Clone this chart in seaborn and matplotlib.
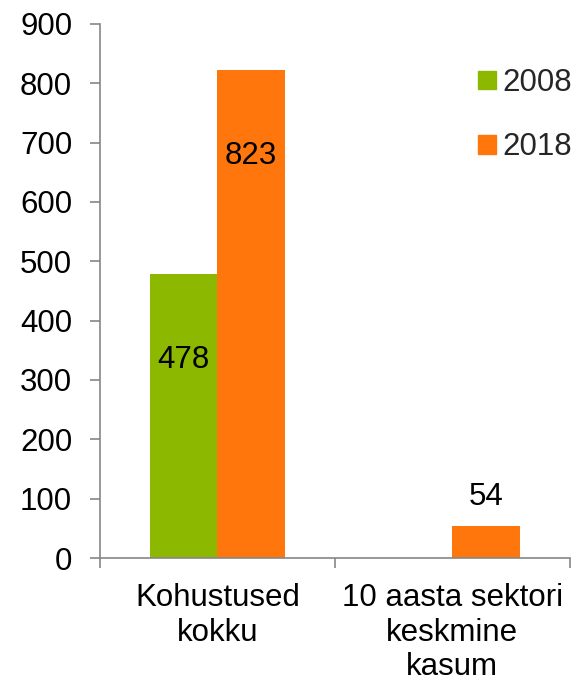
import numpy as np
import pandas as pd
import matplotlib
matplotlib.use("Agg")
import matplotlib.pyplot as plt
import seaborn as sns

# Andmed
categories = ["Kohustused\nkokku", "10 aasta sektori\nkeskmine\nkasum"]
years = ["2008", "2018"]
values_2008 = [478, np.nan]
values_2018 = [823, 54]
colors = ["#8CB800", "#FF760C"]

df = pd.DataFrame({
    "kategooria": categories * 2,
    "aasta": [years[0]] * 2 + [years[1]] * 2,
    "vaartus": values_2008 + values_2018,
})

sns.set_theme(style="white")
plt.rcParams["font.family"] = ["Liberation Sans", "DejaVu Sans"]

FS = 22.5

fig = plt.figure(figsize=(5.71, 6.81), dpi=100)
ax = fig.add_axes([0.175, 0.1806, 0.823, 0.7842])

sns.barplot(data=df, x="kategooria", y="vaartus", hue="aasta",
            palette=colors, width=0.575, saturation=1, linewidth=0,
            ax=ax, legend=False)

# väärtuste sildid
for cont, vals in zip(ax.containers, [values_2008, values_2018]):
    for bar, v in zip(cont, vals):
        if np.isnan(v):
            continue
        x = bar.get_x() + bar.get_width() / 2
        off = -62 if v > 200 else 21
        ax.annotate(f"{v:.0f}", (x, v), xytext=(0, off), textcoords="offset points",
                    ha="center", va="center", fontsize=FS, color="black")

ax.set_xlim(-0.5, 1.5)
ax.set_ylim(0, 900)
ax.set_yticks(range(0, 901, 100))
ax.set_xlabel("")
ax.set_ylabel("")

for s in ["top", "right"]:
    ax.spines[s].set_visible(False)
for s in ["left", "bottom"]:
    ax.spines[s].set_color("#868686")
    ax.spines[s].set_linewidth(1.2)

ax.tick_params(axis="y", which="major", left=True, length=7, width=1.2,
               color="#868686", labelsize=FS, labelcolor="black", pad=13)
ax.tick_params(axis="x", which="major", bottom=False, labelsize=FS,
               labelcolor="black", pad=12)
ax.set_xticks([-0.5, 0.5, 1.5], minor=True)
ax.tick_params(axis="x", which="minor", bottom=True, length=7, width=1.2,
               color="#868686")

handles = [plt.Rectangle((0, 0), 1, 1, color=c) for c in colors]
fig.legend(handles, years, loc="upper left", bbox_to_anchor=(0.838, 0.9),
           frameon=False, fontsize=FS, handlelength=0.55, handleheight=0.55,
           handletextpad=0.2, labelspacing=1.1, borderaxespad=0, borderpad=0)

fig.savefig("out.png", dpi=100)
